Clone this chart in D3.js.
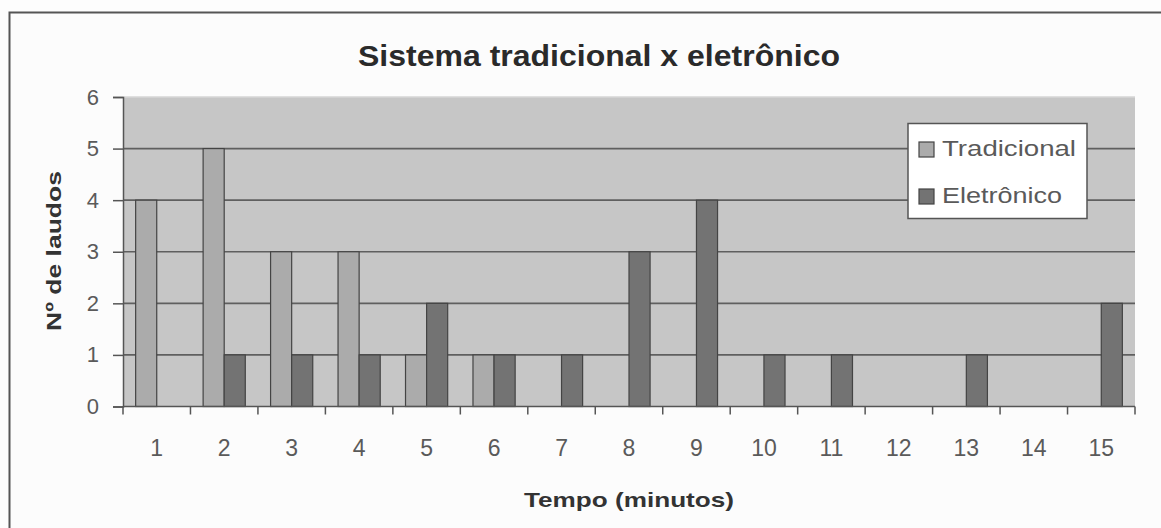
<!DOCTYPE html>
<html lang="pt">
<head>
<meta charset="UTF-8">
<title>Sistema tradicional x eletrônico</title>
<script src="https://cdnjs.cloudflare.com/ajax/libs/d3/7.8.5/d3.min.js"></script>
<style>
  body { margin: 0; background: #fdfdfd; }
  text { font-family: "Liberation Sans", Arial, sans-serif; }
</style>
</head>
<body>
<div id="chart"></div>
<script>
// data
var categories = ["1","2","3","4","5","6","7","8","9","10","11","12","13","14","15"];
var series = ["Tradicional", "Eletrônico"];
var tradicional = [4, 5, 3, 3, 1, 1, 0, 0, 0, 0, 0, 0, 0, 0, 0];
var eletronico  = [0, 1, 1, 1, 2, 1, 1, 3, 4, 1, 1, 0, 1, 0, 2];
var yTicks = [0, 1, 2, 3, 4, 5, 6];

var W = 1161, H = 528;
var colors = { "Tradicional": "#ababab", "Eletrônico": "#737373" };

var svg = d3.select("#chart").append("svg")
    .attr("width", W).attr("height", H);

// outer frame (runs off the right and bottom of the picture)
svg.append("rect")
    .attr("x", 9.5).attr("y", 12.5)
    .attr("width", 1170).attr("height", 540)
    .attr("fill", "#fcfcfc")
    .attr("stroke", "#555").attr("stroke-width", 2);

// plot area  (plotTop, not "top" - that one is window.top)
var plotLeft = 123, plotRight = 1135, plotTop = 97, plotBottom = 406.5;

var x = d3.scaleBand().domain(categories).range([plotLeft, plotRight]);
var xs = d3.scaleBand().domain(series).range([0, x.bandwidth()]).paddingOuter(0.6);
var y = d3.scaleLinear().domain([0, 6]).range([plotBottom, plotTop]);

svg.append("rect")
    .attr("x", plotLeft).attr("y", plotTop)
    .attr("width", plotRight - plotLeft).attr("height", plotBottom - plotTop)
    .attr("fill", "#c6c6c6");
svg.append("line")
    .attr("x1", plotLeft).attr("x2", plotRight).attr("y1", plotTop).attr("y2", plotTop)
    .attr("stroke", "#d6d6d6").attr("stroke-width", 1.5);

// gridlines
svg.append("g").selectAll("line")
    .data(yTicks.filter(function(d) { return d > 0 && d < 6; }))
    .enter().append("line")
    .attr("x1", plotLeft).attr("x2", plotRight)
    .attr("y1", function(d) { return y(d); })
    .attr("y2", function(d) { return y(d); })
    .attr("stroke", "#5f5f5f").attr("stroke-width", 1.6);

// bars
var rows = categories.map(function(c, i) {
    return { cat: c, values: [
        { key: "Tradicional", v: tradicional[i] },
        { key: "Eletrônico", v: eletronico[i] }
    ] };
});

var groups = svg.append("g").selectAll("g")
    .data(rows).enter().append("g")
    .attr("transform", function(d) { return "translate(" + x(d.cat) + ",0)"; });

groups.selectAll("rect")
    .data(function(d) { return d.values.filter(function(e) { return e.v > 0; }); })
    .enter().append("rect")
    .attr("x", function(d) { return xs(d.key); })
    .attr("width", xs.bandwidth())
    .attr("y", function(d) { return y(d.v); })
    .attr("height", function(d) { return y(0) - y(d.v); })
    .attr("fill", function(d) { return colors[d.key]; })
    .attr("stroke", "#444").attr("stroke-width", 1.2);

// y axis
var yAxis = svg.append("g")
    .attr("transform", "translate(" + plotLeft + ",0)")
    .call(d3.axisLeft(y).tickValues(yTicks).tickSize(10).tickPadding(14).tickFormat(d3.format("d")));
yAxis.select(".domain").attr("stroke", "#555").attr("stroke-width", 1.5);
yAxis.selectAll(".tick line").attr("stroke", "#555").attr("stroke-width", 1.5);
yAxis.selectAll(".tick text")
    .attr("fill", "#5a5a5a").style("font-size", "22px").attr("font-family", null);

// x axis: ticks on band edges, labels at centres
var xAxis = svg.append("g").attr("transform", "translate(0," + plotBottom + ")");
xAxis.append("line")
    .attr("x1", plotLeft).attr("x2", plotRight)
    .attr("stroke", "#555").attr("stroke-width", 1.5);
var edges = categories.map(function(c) { return x(c); }).concat([plotRight]);
xAxis.selectAll(".edge").data(edges).enter().append("line")
    .attr("x1", function(d) { return d; }).attr("x2", function(d) { return d; })
    .attr("y1", 0).attr("y2", 8)
    .attr("stroke", "#555").attr("stroke-width", 1.5);
xAxis.selectAll(".lbl").data(categories).enter().append("text")
    .attr("x", function(d) { return x(d) + x.bandwidth() / 2; })
    .attr("y", 49)
    .attr("text-anchor", "middle")
    .attr("fill", "#5a5a5a")
    .style("font-size", "23px")
    .text(function(d) { return d; });

// titles
svg.append("text")
    .attr("x", 599).attr("y", 66)
    .attr("text-anchor", "middle")
    .attr("fill", "#2a2a2a")
    .style("font-size", "30px").style("font-weight", "bold")
    .attr("textLength", 482).attr("lengthAdjust", "spacingAndGlyphs")
    .text("Sistema tradicional x eletrônico");

svg.append("text")
    .attr("transform", "translate(61,251) rotate(-90)")
    .attr("text-anchor", "middle")
    .attr("fill", "#333")
    .style("font-size", "21px").style("font-weight", "bold")
    .attr("textLength", 160).attr("lengthAdjust", "spacingAndGlyphs")
    .text("Nº de laudos");

svg.append("text")
    .attr("x", 629).attr("y", 507)
    .attr("text-anchor", "middle")
    .attr("fill", "#333")
    .style("font-size", "21px").style("font-weight", "bold")
    .attr("textLength", 210).attr("lengthAdjust", "spacingAndGlyphs")
    .text("Tempo (minutos)");

// legend
var legend = svg.append("g");
legend.append("rect")
    .attr("x", 908).attr("y", 123.5)
    .attr("width", 179).attr("height", 95)
    .attr("fill", "#fff").attr("stroke", "#555").attr("stroke-width", 1.5);
var items = legend.selectAll(".item").data(series).enter().append("g")
    .attr("transform", function(d, i) { return "translate(919," + (142 + i * 47) + ")"; });
items.append("rect")
    .attr("width", 15).attr("height", 15)
    .attr("fill", function(d) { return colors[d]; })
    .attr("stroke", "#444").attr("stroke-width", 1.2);
items.append("text")
    .attr("x", 23).attr("y", 14)
    .attr("fill", "#5a5a5a")
    .style("font-size", "22px")
    .attr("textLength", function(d, i) { return i === 0 ? 134 : 120; })
    .attr("lengthAdjust", "spacingAndGlyphs")
    .text(function(d) { return d; });
</script>
</body>
</html>
